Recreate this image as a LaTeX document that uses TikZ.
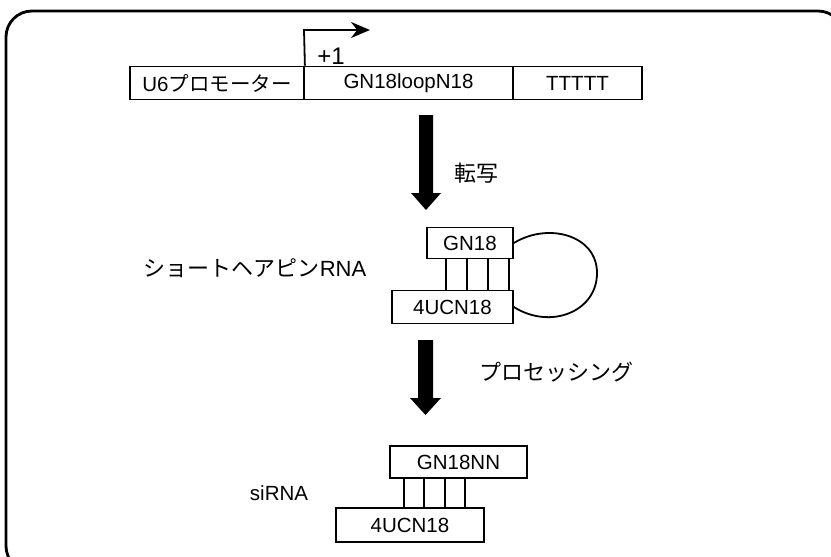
\documentclass[tikz,border=0pt]{standalone}
\usepackage{fontspec}
\setmainfont{Liberation Sans}
\newfontfamily\jp{Noto Sans CJK JP}
\usetikzlibrary{arrows.meta,calc}
\begin{document}
\begin{tikzpicture}[x=1pt,y=-1pt,
  box/.style={draw,line width=1.8pt,minimum height=33pt,inner sep=0pt,font=\fontsize{20.5}{24}\selectfont},
  lbl/.style={inner sep=0pt,font=\fontsize{20.5}{24}\selectfont},
  jlbl/.style={inner sep=0pt,font=\fontsize{22}{26}\selectfont},
  pair/.style={line width=1.6pt},
  bigarrow/.style={fill=black}]
\useasboundingbox (0,0) rectangle (831,557);
\clip (0,0) rectangle (831,557);
\draw[line width=2.8pt,rounded corners=26pt] (6,11) rectangle (844,572);

% top construct
\node[box,minimum width=174pt] (prom) at (217,83) {U6{\jp プロモーター}};
\node[box,minimum width=209pt] (gene) at (408.5,83) {GN18loopN18};
\node[box,minimum width=129pt] (term) at (577.5,83) {TTTTT};
\coordinate (tss) at (304,30);
\coordinate (tssend) at (370,30);
\draw[line width=1.8pt,-{Stealth[length=19pt,width=16pt]}] (prom.north east) -- (tss) -- (tssend);
\node[lbl,font=\fontsize{24}{28}\selectfont] (plus) at (331,56) {+1};

% transcription arrow
\fill[bigarrow] (419,115) -- (433,115) -- (433,193) -- (441,193) -- (426,210) -- (411,193) -- (419,193) -- cycle;
\node[jlbl] (tx) at (476,173) {\jp 転写};

% short hairpin
\node[jlbl] (shlbl) at (255,268) {{\jp ショートヘアピン}RNA};
\node[box,minimum width=86pt,minimum height=31pt] (g1) at (470,243) {GN18};
\node[box,minimum width=121pt,minimum height=33pt] (u1) at (452.5,307) {4UCN18};
\foreach \x in {446,467,488,509}{
  \coordinate (t\x) at (\x,258.5);
  \coordinate (b\x) at (\x,290.5);
  \draw[pair] (t\x) -- (b\x);
}
\draw[line width=1.8pt] (g1.east) .. controls (548,222) and (597,235) .. (597,273)
  .. controls (597,312) and (550,330) .. (u1.east);

% processing arrow
\fill[bigarrow] (418,340) -- (433,340) -- (433,398) -- (441,398) -- (425.5,415) -- (410,398) -- (418,398) -- cycle;
\node[jlbl] (proc) at (556,372) {\jp プロセッシング};

% siRNA
\node[lbl] (silbl) at (279,493) {siRNA};
\node[box,minimum width=137pt,minimum height=32pt] (g2) at (458.5,462) {GN18NN};
\node[box,minimum width=148pt,minimum height=34pt] (u2) at (410,525) {4UCN18};
\foreach \x in {404,424,445,465}{
  \coordinate (s\x) at (\x,478);
  \coordinate (e\x) at (\x,508);
  \draw[pair] (s\x) -- (e\x);
}
\end{tikzpicture}
\end{document}
